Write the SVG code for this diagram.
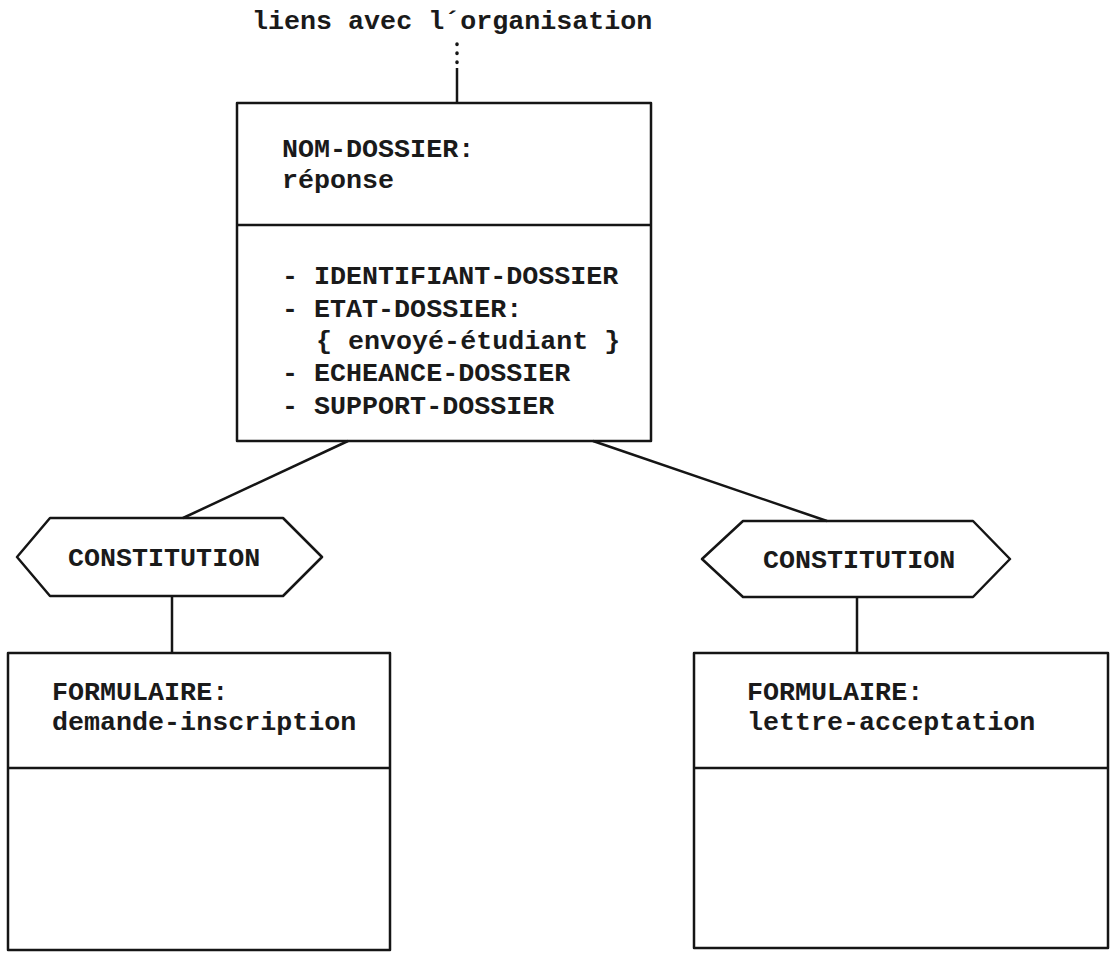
<svg xmlns="http://www.w3.org/2000/svg" width="1114" height="953" viewBox="0 0 1114 953">
<style>
.s{fill:none;stroke:#151515;stroke-width:2.5;stroke-linejoin:round}
.d{fill:none;stroke:#151515;stroke-width:3.5;stroke-linecap:round;stroke-dasharray:0.5 8.5}
.t{font-family:"Liberation Mono","Courier New",monospace;font-size:26.7px;font-weight:bold;fill:#1a1a1a}
</style>
<rect width="1114" height="953" fill="#ffffff"/>
<g id="connectors">
  <line class="d" x1="457" y1="44" x2="457" y2="63"/>
  <line class="s" x1="457" y1="68" x2="457" y2="103"/>
  <line class="s" x1="348" y1="441" x2="183" y2="518"/>
  <line class="s" x1="593" y1="441" x2="827" y2="521"/>
  <line class="s" x1="172" y1="596" x2="172" y2="653"/>
  <line class="s" x1="857" y1="597" x2="857" y2="653"/>
</g>
<g id="label-top">
  <text class="t" x="252" y="29">liens avec l´organisation</text>
</g>
<g id="node-reponse">
  <rect class="s" x="237" y="103" width="414" height="338"/>
  <line class="s" x1="237" y1="225" x2="651" y2="225"/>
  <text class="t" x="282" y="157">NOM-DOSSIER:</text>
  <text class="t" x="282" y="188">réponse</text>
  <text class="t" x="282" y="284">- IDENTIFIANT-DOSSIER</text>
  <text class="t" x="282" y="317">- ETAT-DOSSIER:</text>
  <text class="t" x="316" y="349">{ envoyé-étudiant }</text>
  <text class="t" x="282" y="381">- ECHEANCE-DOSSIER</text>
  <text class="t" x="282" y="414">- SUPPORT-DOSSIER</text>
</g>
<g id="node-constitution-left">
  <polygon class="s" points="17,557 50,518 283,518 322,557 283,596 50,596"/>
  <text class="t" x="68" y="566">CONSTITUTION</text>
</g>
<g id="node-constitution-right">
  <polygon class="s" points="702,559 743,521 973,521 1010,559 973,597 743,597"/>
  <text class="t" x="763" y="568">CONSTITUTION</text>
</g>
<g id="node-demande-inscription">
  <rect class="s" x="8" y="653" width="382" height="297"/>
  <line class="s" x1="8" y1="768" x2="390" y2="768"/>
  <text class="t" x="52" y="700">FORMULAIRE:</text>
  <text class="t" x="52" y="730">demande-inscription</text>
</g>
<g id="node-lettre-acceptation">
  <rect class="s" x="694" y="653" width="414" height="295"/>
  <line class="s" x1="694" y1="768" x2="1108" y2="768"/>
  <text class="t" x="747" y="700">FORMULAIRE:</text>
  <text class="t" x="747" y="730">lettre-acceptation</text>
</g>
</svg>
